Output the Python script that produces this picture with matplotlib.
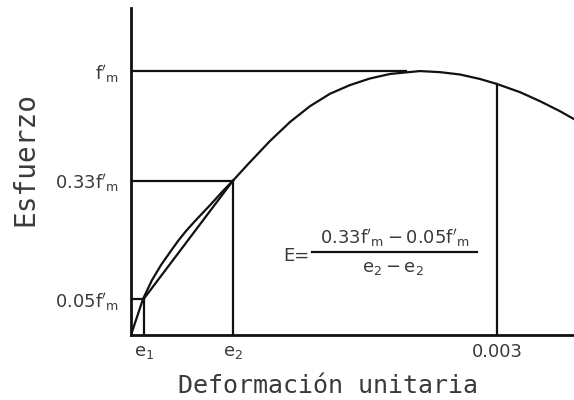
import matplotlib
matplotlib.use("Agg")
import matplotlib.pyplot as plt

plt.rcParams['mathtext.fontset'] = 'dejavusans'

# Strain (x) and stress as drawn (y, fraction of f'm level on the sketch)
strain = [0.0, 0.000098, 0.000172, 0.000246, 0.000320, 0.000385, 0.000451,
          0.000525, 0.000656, 0.000746, 0.000836, 0.000975, 0.001139, 0.001303,
          0.001467, 0.001631, 0.001795, 0.001959, 0.002123, 0.002230, 0.002369,
          0.002533, 0.002697, 0.002861, 0.003, 0.003189, 0.003352, 0.003516,
          0.003631]
stress = [0.0, 0.136, 0.208, 0.265, 0.314, 0.356, 0.394,
          0.432, 0.496, 0.542, 0.585, 0.655, 0.735, 0.807,
          0.867, 0.914, 0.947, 0.972, 0.989, 0.994, 1.0,
          0.996, 0.987, 0.970, 0.951, 0.920, 0.886, 0.848,
          0.818]

e1 = 0.000103
e2 = 0.000836
e_u = 0.003
level_005 = 0.136
level_033 = 0.585
level_fm = 1.0
stress_at_eu = 0.951
fm_line_end = 0.00225

xtick_vals = [e1, e2, e_u]
xtick_labels = [r"$\mathrm{e}_1$", r"$\mathrm{e}_2$", "0.003"]
ytick_vals = [level_005, level_033, level_fm]
ytick_labels = [r"$\mathrm{0.05f}'_\mathrm{m}$", r"$\mathrm{0.33f}'_\mathrm{m}$",
                r"$\mathrm{f}'_\mathrm{m}$"]

fig = plt.figure(figsize=(5.74, 4.0), dpi=100)
ax = fig.add_axes([131/574, 65/400, 1 - 131/574, (335 - 8)/400])
ax.set_xlim(0, 0.003631)
ax.set_ylim(0, 1.239)

lc = "#111111"
tc = "#3a3a3a"
lw = 1.6

ax.plot(strain, stress, color=lc, lw=lw, solid_joinstyle='round')
# reference lines
ax.plot([0, fm_line_end], [level_fm, level_fm], color=lc, lw=lw)
ax.plot([0, e2], [level_033, level_033], color=lc, lw=lw)
ax.plot([0, e1], [level_005, level_005], color=lc, lw=lw)
ax.plot([e1, e1], [0, level_005], color=lc, lw=lw)
ax.plot([e2, e2], [0, level_033], color=lc, lw=lw)
ax.plot([e_u, e_u], [0, stress_at_eu], color=lc, lw=lw)
# secant chord
ax.plot([e1, e2], [level_005, level_033], color=lc, lw=lw)

for s in ['top', 'right']:
    ax.spines[s].set_visible(False)
for s in ['left', 'bottom']:
    ax.spines[s].set_linewidth(2.0)
    ax.spines[s].set_color(lc)

ax.set_xticks(xtick_vals)
ax.set_xticklabels(xtick_labels)
ax.set_yticks(ytick_vals)
ax.set_yticklabels(ytick_labels)
ax.tick_params(axis='both', length=0, labelsize=13, colors=tc)
ax.tick_params(axis='y', pad=9)
ax.tick_params(axis='x', pad=6)

fig.text(328/574, 1 - 386/400, "Deformación unitaria", fontsize=18,
         family="DejaVu Sans Mono", color=tc, ha='center', va='center')
fig.text(25/574, 1 - 159/400, "Esfuerzo", fontsize=20, family="DejaVu Sans Mono",
         color=tc, ha='center', va='center', rotation=90)

# formula
fig.text(296/574, 1 - 256/400, "E=", fontsize=13, color=tc, ha='center', va='center')
fig.text(395/574, 1 - 238/400,
         r"$\mathrm{0.33f}'_\mathrm{m} - \mathrm{0.05f}'_\mathrm{m}$",
         fontsize=13, color=tc, ha='center', va='center')
fig.add_artist(plt.Line2D([312/574, 477/574], [1 - 252/400, 1 - 252/400],
                          color=lc, lw=1.6))
fig.text(393/574, 1 - 268/400, r"$\mathrm{e}_2 - \mathrm{e}_2$", fontsize=13, color=tc,
         ha='center', va='center')

fig.savefig("out.png", dpi=100, facecolor="white")
